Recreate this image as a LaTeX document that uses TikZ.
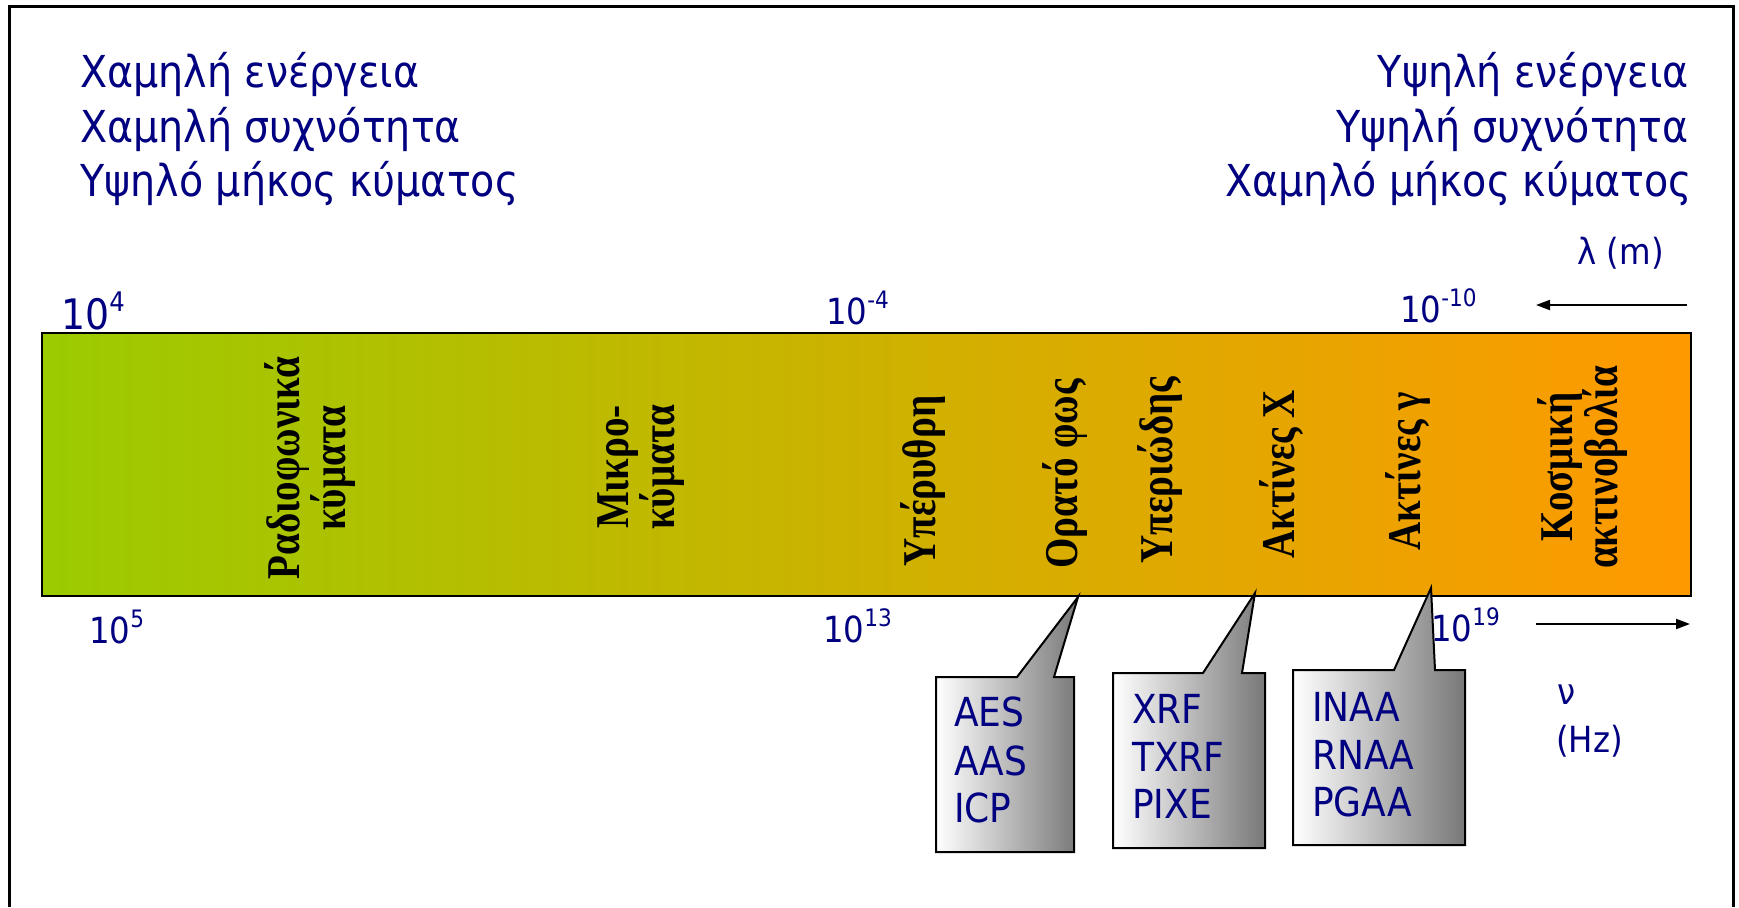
\documentclass[tikz,border=0pt]{standalone}
\usepackage{fontspec}
\setmainfont[FakeStretch=0.9]{DejaVu Sans}
\newfontfamily\labfont[FakeStretch=0.83]{Liberation Serif}
\usetikzlibrary{arrows.meta}
\definecolor{navy}{RGB}{0,0,128}
\definecolor{barleft}{RGB}{155,203,0}
\definecolor{barright}{RGB}{255,153,0}
\definecolor{calloutdark}{RGB}{120,120,120}
\newcommand\myexp[1]{\raisebox{0.42em}{\fontsize{24}{24}\selectfont #1}}
\begin{document}
\begin{tikzpicture}[x=1pt,y=-1pt,
  txt/.style={text=navy, inner sep=0pt, font=\fontsize{44}{54}\selectfont},
  num/.style={text=navy, inner sep=0pt, font=\fontsize{36}{40}\selectfont, anchor=base west},
  band/.style={rotate=90, align=center, inner sep=0pt, font=\labfont\bfseries\fontsize{47}{41}\selectfont},
  callout/.style={draw=black, line width=2pt, left color=white, right color=calloutdark},
  meth/.style={text=navy, inner sep=0pt, font=\fontsize{40}{48}\selectfont, anchor=base west},
  axarrow/.style={line width=2pt, -{Triangle[length=14pt,width=10pt]}}]
\useasboundingbox (0,0) rectangle (1739,907);
% frame
\draw[line width=3pt] (9,907) -- (9,7) -- (1733,7) -- (1733,907);
% top texts
\node[txt, anchor=base west] (l1) at (80,88) {Χαμηλή ενέργεια};
\node[txt, anchor=base west] (l2) at (80,142) {Χαμηλή συχνότητα};
\node[txt, anchor=base west] (l3) at (80,196) {Υψηλό μήκος κύματος};
\node[txt, anchor=base east] (r1) at (1689,88) {Υψηλή ενέργεια};
\node[txt, anchor=base east] (r2) at (1689,142) {Υψηλή συχνότητα};
\node[txt, anchor=base east] (r3) at (1692,196) {Χαμηλό μήκος κύματος};
\node[txt, anchor=base east, font=\fontsize{36}{40}\selectfont] (lam) at (1664,264) {λ (m)};
% bar
\node[draw=black, line width=2.5pt, minimum width=1649pt, minimum height=263pt, inner sep=0pt,
      left color=barleft, right color=barright] (bar) at (866.5,464.5) {};
% band labels
\node[band] (radio) at (310,468) {Ραδιοφωνικά\\κύματα};
\node[band] (micro) at (641,467) {Μικρο-\\κύματα};
\node[band] (ir) at (923,481) {Υπέρυθρη};
\node[band] (vis) at (1065,474) {Ορατό φως};
\node[band] (uv) at (1160,470) {Υπεριώδης};
\node[band] (xray) at (1281,474) {Ακτίνες Χ};
\node[band] (gamma) at (1408,471) {Ακτίνες γ};
\node[band, font=\labfont\bfseries\fontsize{47}{45}\selectfont] (cosmic) at (1583,467) {Κοσμική\\ακτινοβολία};
% scale numbers
\node[num, font=\fontsize{42}{44}\selectfont] (n1) at (61,329) {10\raisebox{0.42em}{\fontsize{27}{27}\selectfont 4}};
\node[num] (n2) at (826,324) {10\myexp{-4}};
\node[num] (n3) at (1400,322) {10\myexp{-10}};
\node[num] (n4) at (89,643) {10\myexp{5}};
\node[num] (n5) at (823,642) {10\myexp{13}};
\node[num] (n6) at (1431,641) {10\myexp{19}};
\node[num] (nu) at (1557,704) {ν};
\node[num] (hz) at (1556,752) {(Hz)};
% arrows
\coordinate (lamA) at (1687,305);
\coordinate (lamB) at (1536,305);
\coordinate (nuA) at (1536,624);
\coordinate (nuB) at (1690,624);
\draw[axarrow] (lamA) -- (lamB);
\draw[axarrow] (nuA) -- (nuB);
% callouts
\path[callout] (936,677) -- (1017,677) -- (1078,597) -- (1054,677) -- (1074,677) -- (1074,852) -- (936,852) -- cycle;
\path[callout] (1113,673) -- (1203,673) -- (1255,593) -- (1242,673) -- (1265,673) -- (1265,848) -- (1113,848) -- cycle;
\path[callout] (1293,670) -- (1394,670) -- (1431,588) -- (1435,670) -- (1465,670) -- (1465,845) -- (1293,845) -- cycle;
% methods
\node[meth] (aes) at (954,726) {AES};
\node[meth] (aas) at (954,775) {AAS};
\node[meth] (icp) at (954,822) {ICP};
\node[meth] (xrf) at (1132,723) {XRF};
\node[meth] (txrf) at (1132,771) {TXRF};
\node[meth] (pixe) at (1132,818) {PIXE};
\node[meth] (inaa) at (1312,721) {INAA};
\node[meth] (rnaa) at (1312,769) {RNAA};
\node[meth] (pgaa) at (1312,816) {PGAA};
\end{tikzpicture}
\end{document}
